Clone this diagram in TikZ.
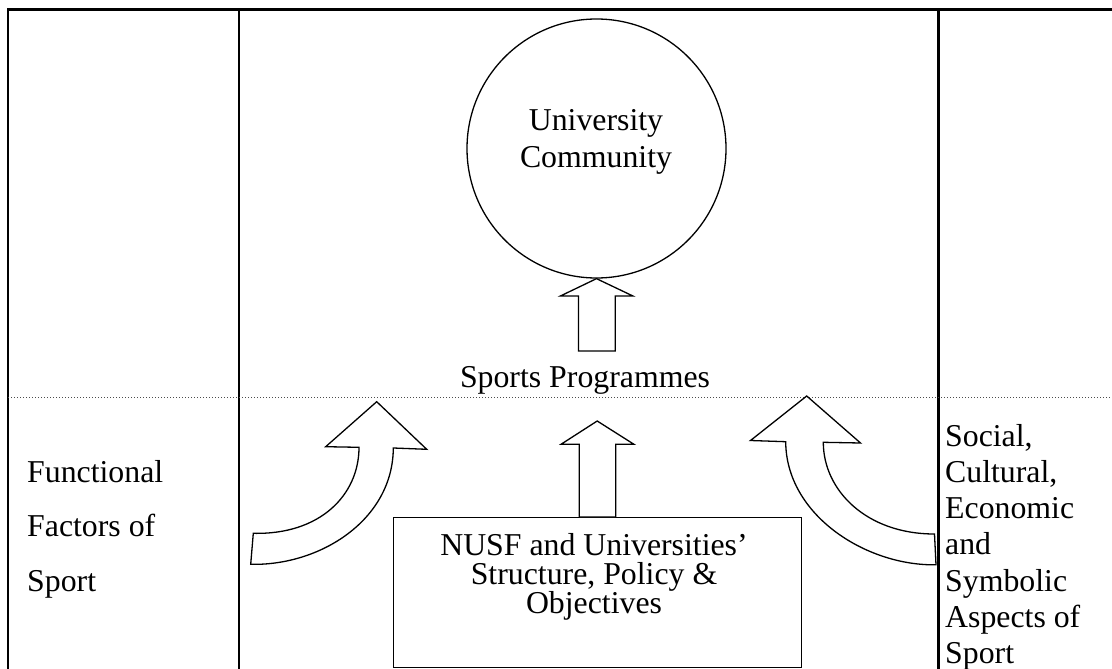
\documentclass[tikz,border=0pt]{standalone}
\usepackage{fontspec}
\setmainfont{Liberation Serif}
\begin{document}
\begin{tikzpicture}[x=1pt,y=-1pt,
  tableline/.style={line width=2.6pt},
  guide/.style={line width=1pt, black!70, dash pattern=on 1pt off 2pt},
  blockarrow/.style={line width=1.3pt, fill=white, line join=miter},
  txt/.style={font=\fontsize{31.8}{36.3}\selectfont, inner sep=0pt},
]
\useasboundingbox (0,0) rectangle (1112,669);

% table rules
\draw[tableline] (8,669) -- (8,9.6) -- (1112,9.6);
\draw[tableline] (239,9.6) -- (239,669);
\draw[tableline] (938.5,9.6) -- (938.5,669);
\draw[guide] (8,397.5) -- (1112,397.5);

% nodes (base anchor of a multi-line node = baseline of its last line)
\node[circle, draw, line width=1.3pt, minimum size=259pt, inner sep=0pt] (uc) at (596.5,148.5) {};
\node[txt, anchor=base, align=center] (uctext) at (596,167) {University\\Community};
\node[txt, anchor=base] (sp) at (585,387) {Sports Programmes};
\node[draw, line width=1.3pt, minimum width=408pt, minimum height=150pt, inner sep=0pt, anchor=north west] (nusf) at (393,517) {};
\node[txt, anchor=base, align=center, font=\fontsize{31.8}{29}\selectfont] (nusftext) at (594,613) {NUSF and Universities’\\Structure, Policy \&\\Objectives};
\node[txt, anchor=base west, align=left, font=\fontsize{31.8}{54.5}\selectfont] (fff) at (27,591) {Functional\\Factors of\\Sport};
\node[txt, anchor=base west, align=left] (scesa) at (945,663.8) {Social,\\Cultural,\\Economic\\and\\Symbolic\\Aspects of\\Sport};

% straight block arrows
\draw[blockarrow] (uc.south) -- ++(36.3,17.3) -- ++(-17.6,0) -- ++(0,55) -- ++(-36.7,0) -- ++(0,-55) -- ++(-18,0) -- cycle;
\draw[blockarrow] (nusf.north) ++(18,0) -- ++(0,-72.7) -- ++(18.3,0) -- (597.2,421) -- (561,444.3) -- (579.3,444.3) -- (579.3,517) -- cycle;

% curved block arrows
\draw[blockarrow] (376.7,401.7) -- (426.7,449.3) -- (393.3,448)
  .. controls (393,520) and (320,566) .. (250.7,564.3) -- (253.3,533.3)
  .. controls (320,535) and (359,495) .. (359,447.3) -- (325.7,446.7) -- cycle;
\draw[blockarrow] (806.7,396) -- (750.5,440.5) -- (785.7,441.7)
  .. controls (786,515) and (866,566) .. (936,564.8) -- (934.5,534)
  .. controls (866,534) and (823.3,490) .. (823.3,442.3) -- (860.5,443) -- cycle;
\end{tikzpicture}
\end{document}
